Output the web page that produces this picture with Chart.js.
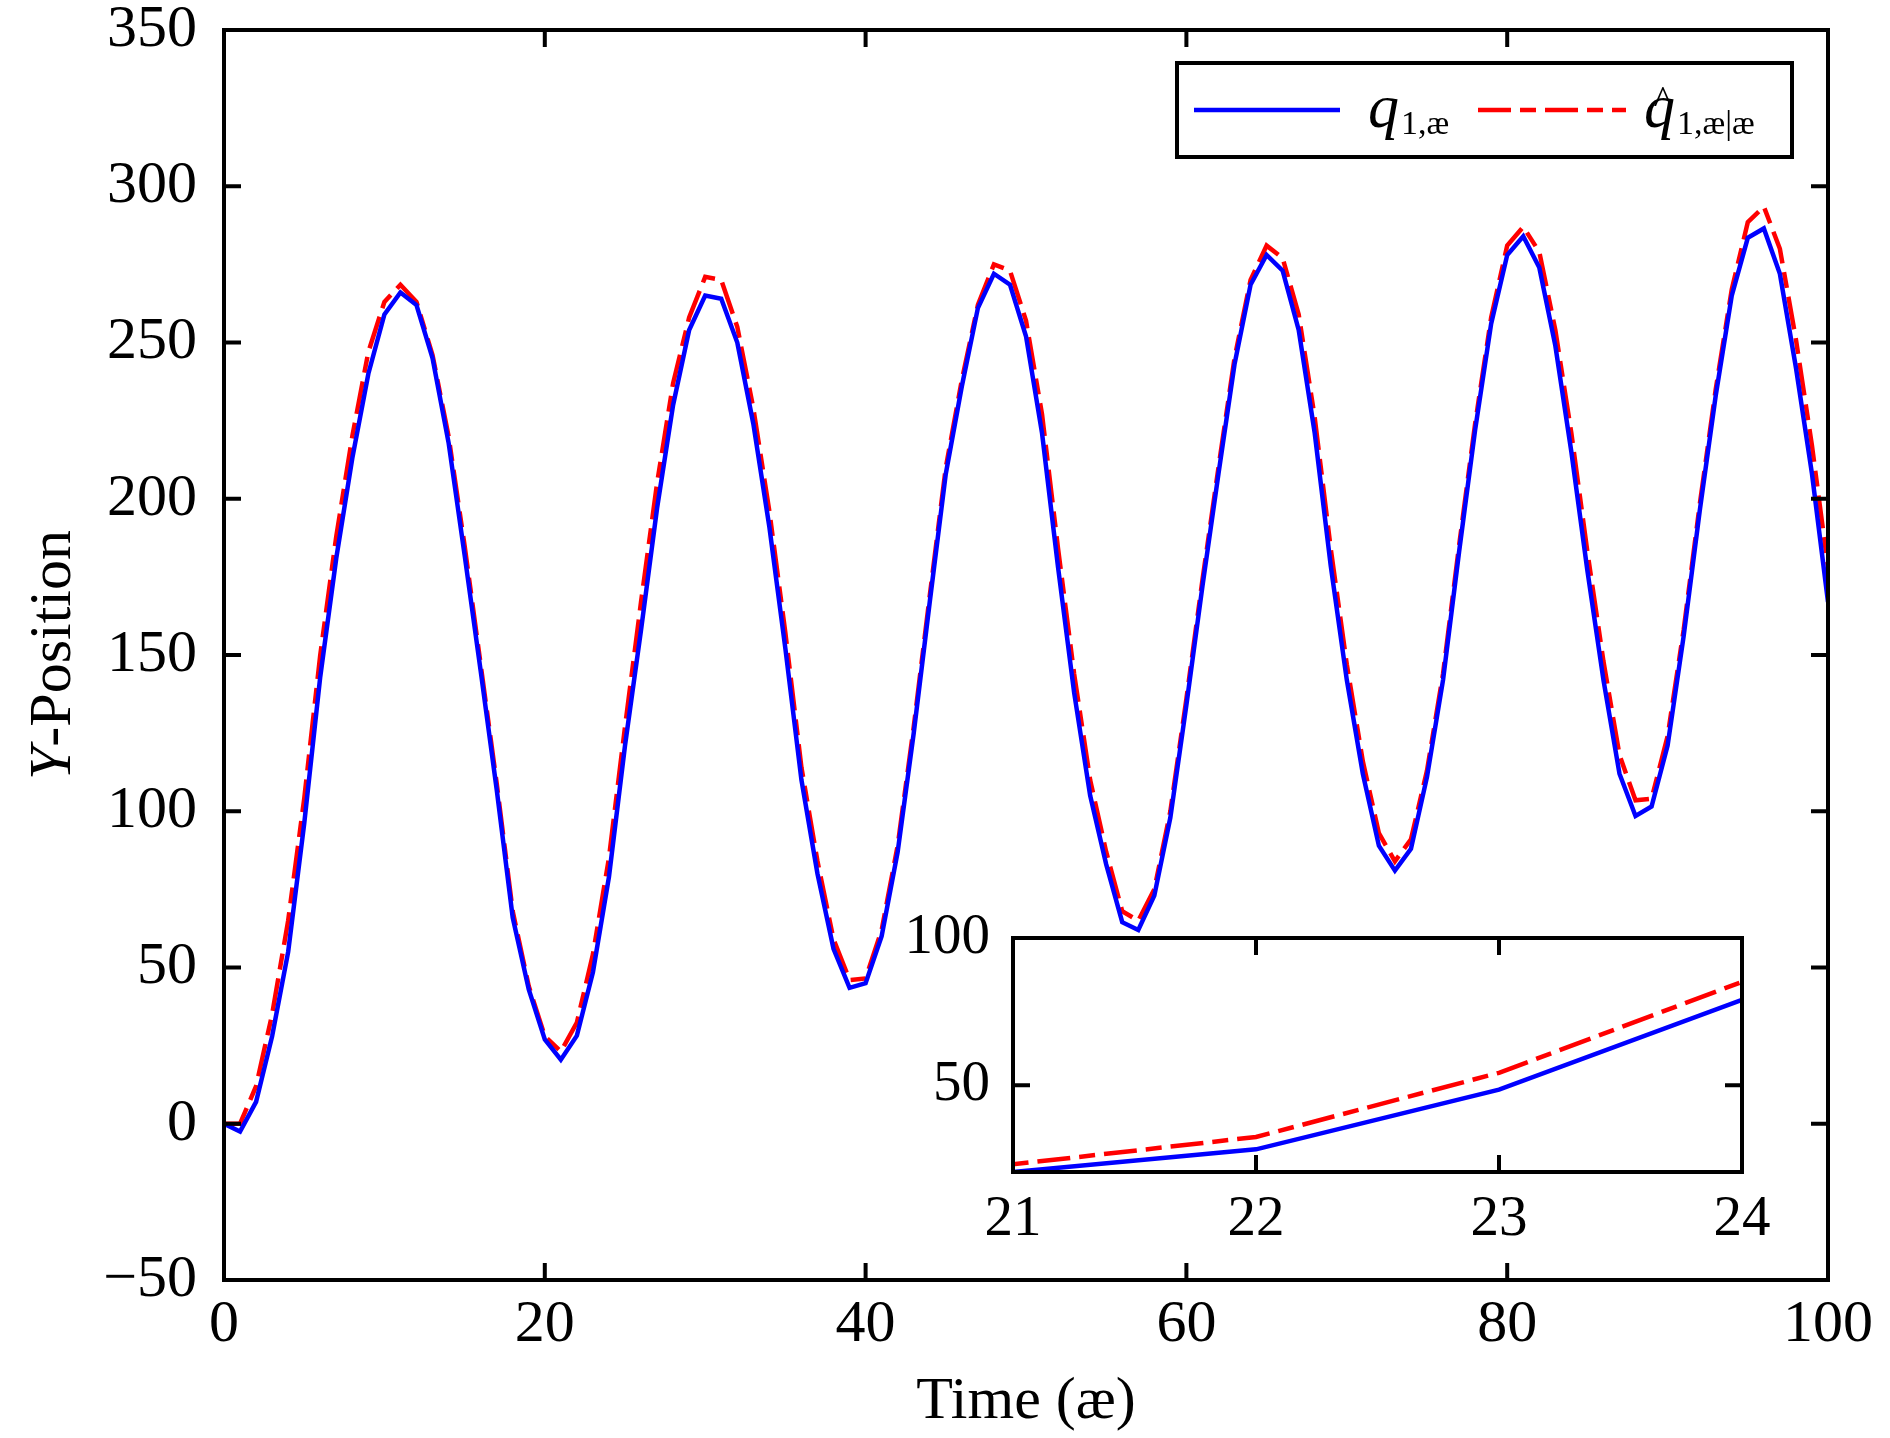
<!DOCTYPE html>
<html>
<head>
<meta charset="utf-8">
<script src="https://cdn.jsdelivr.net/npm/chart.js@4.4.1/dist/chart.umd.min.js"></script>
<style>
  html, body { margin: 0; padding: 0; background: #fff; }
  #wrap { position: relative; width: 1890px; height: 1438px; }
  #main { position: absolute; left: 0; top: 0; width: 1890px; height: 1438px; }
  #inset { position: absolute; left: 860px; top: 890px; width: 960px; height: 360px; }
</style>
</head>
<body>
<div id="wrap">
  <canvas id="main" width="1890" height="1438"></canvas>
  <canvas id="inset" width="960" height="360"></canvas>
</div>
<script>
// time steps
const time = [
  0, 1, 2, 3, 4, 5, 6, 7, 8, 9, 10, 11, 12, 13, 14, 15, 16, 17, 18, 19,
  20, 21, 22, 23, 24, 25, 26, 27, 28, 29, 30, 31, 32, 33, 34, 35, 36, 37, 38, 39,
  40, 41, 42, 43, 44, 45, 46, 47, 48, 49, 50, 51, 52, 53, 54, 55, 56, 57, 58, 59,
  60, 61, 62, 63, 64, 65, 66, 67, 68, 69, 70, 71, 72, 73, 74, 75, 76, 77, 78, 79,
  80, 81, 82, 83, 84, 85, 86, 87, 88, 89, 90, 91, 92, 93, 94, 95, 96, 97, 98, 99, 100
];

// true y-position q
const qTrue = [
  0, -2.5, 7, 28, 55, 96, 143, 181, 213, 240,
  259, 266, 262, 245, 218, 182, 145, 107, 66, 43,
  27, 20.5, 28.2, 48.5, 79, 121, 158, 197, 230, 254,
  265, 264, 250, 224, 191, 152, 110, 80, 56, 43.5,
  45, 60, 87, 125, 167, 208, 236, 261, 272, 268.5,
  252, 221, 178, 138, 105, 83, 64.5, 62, 73, 98,
  134, 172, 208, 243, 268.5, 278, 273, 254, 221, 178.5,
  142, 112, 89, 81, 88, 111, 142, 183, 222, 256,
  278, 284, 274, 249, 215, 177, 142, 112, 98.5, 101.5,
  121, 156, 196, 233, 265, 283.5, 286.5, 272, 242, 208, 167
];

// filtered estimate q-hat
const qEst = [
  0, 0, 12, 35, 65, 104, 150, 188, 220, 247,
  263, 268.5, 263, 246, 220, 185, 147, 109, 68, 44,
  28, 23.1, 32.4, 54.2, 85.1, 127, 167, 205, 237, 258,
  271, 270, 255, 229, 196, 157, 114, 84, 59, 46,
  46.5, 62, 89, 127, 169, 210, 238, 262, 275, 273,
  257, 227, 184, 144, 110, 87, 68, 65, 75, 100,
  136, 174, 210, 245, 270, 281, 277, 259, 226, 184,
  147, 116, 93, 84, 91, 113, 144, 185, 224, 258,
  281, 287, 279, 254, 221, 183, 148, 118, 103.5, 104,
  124, 158, 198, 235, 267, 288.5, 293.5, 280, 251, 217, 178
];

const xTicks = [0, 20, 40, 60, 80, 100];
const yTicks = [-50, 0, 50, 100, 150, 200, 250, 300, 350];
const insetXTicks = [21, 22, 23, 24];
const insetYTicks = [50, 100];

const BLUE = "#0000ff";
const RED = "#ff0000";
const redDash = [33, 9, 16, 9];
const serif = "'Liberation Serif', 'Times New Roman', serif";

const toPoints = (vals) => time.map((t, i) => ({ x: t, y: vals[i] }));

const makeDatasets = () => [
  {
    label: "q",
    data: toPoints(qTrue),
    borderColor: BLUE,
    borderWidth: 4.5,
    pointRadius: 0,
    tension: 0,
    fill: false
  },
  {
    label: "qhat",
    data: toPoints(qEst),
    borderColor: RED,
    borderWidth: 4.5,
    borderDash: redDash,
    pointRadius: 0,
    tension: 0,
    fill: false
  }
];

// fixed axis box sizes, no overflow padding from the labels
const fixX = (h) => (s) => { s.height = h; s.paddingLeft = 0; s.paddingRight = 0; };
const fixY = (w) => (s) => { s.width = w; s.paddingTop = 0; s.paddingBottom = 0; };

// inward ticks + box frame
const drawFrame = (chart, xt, yt, len) => {
  const { ctx, chartArea: a, scales } = chart;
  ctx.save();
  ctx.strokeStyle = "#000";
  ctx.lineWidth = 4;
  ctx.setLineDash([]);
  ctx.beginPath();
  xt.forEach((v) => {
    const px = scales.x.getPixelForValue(v);
    ctx.moveTo(px, a.bottom);
    ctx.lineTo(px, a.bottom - len);
    ctx.moveTo(px, a.top);
    ctx.lineTo(px, a.top + len);
  });
  yt.forEach((v) => {
    const py = scales.y.getPixelForValue(v);
    ctx.moveTo(a.left, py);
    ctx.lineTo(a.left + len, py);
    ctx.moveTo(a.right, py);
    ctx.lineTo(a.right - len, py);
  });
  ctx.stroke();
  ctx.strokeRect(a.left, a.top, a.right - a.left, a.bottom - a.top);
  ctx.restore();
};

const drawQ = (ctx, x, base, sub, hat) => {
  ctx.fillStyle = "#000";
  ctx.textAlign = "left";
  ctx.textBaseline = "alphabetic";
  ctx.font = "italic 62px " + serif;
  ctx.fillText("q", x, base);
  const qw = ctx.measureText("q").width;
  if (hat) {
    ctx.font = "40px " + serif;
    ctx.textAlign = "center";
    ctx.fillText("^", x + 19, base - 13);
    ctx.textAlign = "left";
  }
  ctx.font = "34px " + serif;
  ctx.fillText(sub, x + qw + 2, base + 7);
};

const mainDecor = {
  id: "mainDecor",
  afterDraw(chart) {
    const { ctx, chartArea: a } = chart;
    drawFrame(chart, xTicks, yTicks, 17);

    ctx.save();
    // x title
    ctx.fillStyle = "#000";
    ctx.font = "60px " + serif;
    ctx.textAlign = "center";
    ctx.textBaseline = "alphabetic";
    ctx.fillText("Time (\u00e6)", (a.left + a.right) / 2, 1418);

    // y title, rotated, italic Y
    ctx.translate(70, (a.top + a.bottom) / 2);
    ctx.rotate(-Math.PI / 2);
    ctx.font = "italic 60px " + serif;
    const wY = ctx.measureText("Y").width;
    ctx.font = "60px " + serif;
    const wRest = ctx.measureText("-Position").width;
    const start = -(wY + wRest) / 2;
    ctx.textAlign = "left";
    ctx.font = "italic 60px " + serif;
    ctx.fillText("Y", start, 0);
    ctx.font = "60px " + serif;
    ctx.fillText("-Position", start + wY, 0);
    ctx.restore();

    // legend
    ctx.save();
    const w = 615, h = 94;
    const x0 = a.right - 36 - w, y0 = a.top + 33;
    ctx.fillStyle = "#fff";
    ctx.fillRect(x0, y0, w, h);
    ctx.strokeStyle = "#000";
    ctx.lineWidth = 4;
    ctx.strokeRect(x0, y0, w, h);
    const ly = y0 + 47;
    ctx.strokeStyle = BLUE;
    ctx.lineWidth = 4.5;
    ctx.beginPath();
    ctx.moveTo(x0 + 17, ly);
    ctx.lineTo(x0 + 163, ly);
    ctx.stroke();
    drawQ(ctx, x0 + 191, y0 + 64, "1,\u00e6", false);
    ctx.strokeStyle = RED;
    ctx.lineWidth = 4.5;
    ctx.setLineDash(redDash);
    ctx.beginPath();
    ctx.moveTo(x0 + 301, ly);
    ctx.lineTo(x0 + 449, ly);
    ctx.stroke();
    ctx.setLineDash([]);
    drawQ(ctx, x0 + 467, y0 + 64, "1,\u00e6|\u00e6", true);
    ctx.restore();
  }
};

const minusFmt = (v) => String(v).replace("-", "\u2212");

new Chart(document.getElementById("main"), {
  type: "line",
  data: { datasets: makeDatasets() },
  options: {
    responsive: false,
    devicePixelRatio: 1,
    animation: false,
    layout: { padding: { top: 30, right: 62, left: 0, bottom: 0 } },
    plugins: { legend: { display: false }, tooltip: { enabled: false } },
    scales: {
      x: {
        type: "linear",
        min: 0,
        max: 100,
        afterFit: fixX(158),
        afterBuildTicks: (s) => { s.ticks = xTicks.map((v) => ({ value: v })); },
        grid: { display: false, drawTicks: false },
        border: { display: false },
        ticks: {
          padding: 15,
          maxRotation: 0,
          autoSkip: false,
          color: "#000",
          font: { family: serif, size: 60, lineHeight: 1 }
        }
      },
      y: {
        type: "linear",
        min: -50,
        max: 350,
        afterFit: fixY(224),
        afterBuildTicks: (s) => { s.ticks = yTicks.map((v) => ({ value: v })); },
        grid: { display: false, drawTicks: false },
        border: { display: false },
        ticks: {
          padding: 27,
          autoSkip: false,
          color: "#000",
          callback: minusFmt,
          font: { family: serif, size: 60, lineHeight: 1 }
        }
      }
    }
  },
  plugins: [mainDecor]
});

const insetDecor = {
  id: "insetDecor",
  beforeDatasetsDraw(chart) {
    const { ctx, chartArea: a } = chart;
    ctx.save();
    ctx.fillStyle = "#fff";
    ctx.fillRect(a.left, a.top, a.right - a.left, a.bottom - a.top);
    ctx.restore();
  },
  afterDraw(chart) {
    drawFrame(chart, insetXTicks, insetYTicks, 17);
  }
};

new Chart(document.getElementById("inset"), {
  type: "line",
  data: { datasets: makeDatasets() },
  options: {
    responsive: false,
    devicePixelRatio: 1,
    animation: false,
    layout: { padding: { top: 48, right: 78, left: 0, bottom: 0 } },
    plugins: { legend: { display: false }, tooltip: { enabled: false } },
    scales: {
      x: {
        type: "linear",
        min: 21,
        max: 24,
        afterFit: fixX(78),
        afterBuildTicks: (s) => { s.ticks = insetXTicks.map((v) => ({ value: v })); },
        grid: { display: false, drawTicks: false },
        border: { display: false },
        ticks: {
          padding: 20,
          maxRotation: 0,
          autoSkip: false,
          color: "#000",
          font: { family: serif, size: 57, lineHeight: 1 }
        }
      },
      y: {
        type: "linear",
        min: 20.5,
        max: 100,
        afterFit: fixY(153),
        afterBuildTicks: (s) => { s.ticks = insetYTicks.map((v) => ({ value: v })); },
        grid: { display: false, drawTicks: false },
        border: { display: false },
        ticks: {
          padding: 23,
          autoSkip: false,
          color: "#000",
          font: { family: serif, size: 57, lineHeight: 1 }
        }
      }
    }
  },
  plugins: [insetDecor]
});
</script>
</body>
</html>
